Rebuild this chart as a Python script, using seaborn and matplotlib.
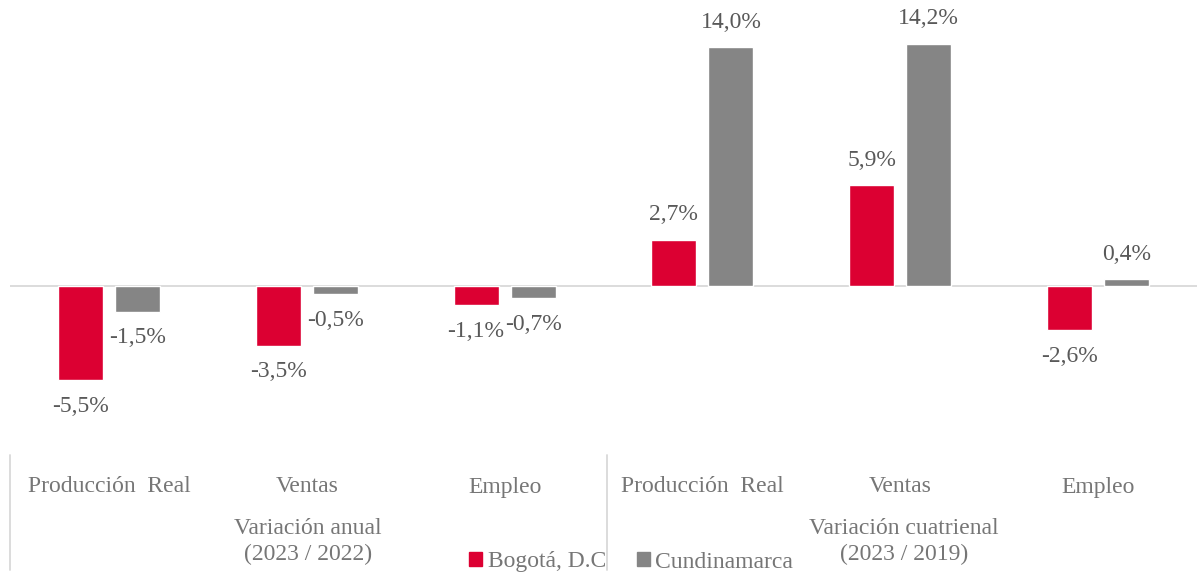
import pandas as pd
import numpy as np
import matplotlib.pyplot as plt
import seaborn as sns

# Data
categorias = ['Producción  Real', 'Ventas', 'Empleo', 'Producción  Real', 'Ventas', 'Empleo']
bogota = [-5.5, -3.5, -1.1, 2.7, 5.9, -2.6]
cundinamarca = [-1.5, -0.5, -0.7, 14.0, 14.2, 0.4]
grupos = ['Variación anual\n(2023 / 2022)', 'Variación cuatrienal\n(2023 / 2019)']
series = ['Bogotá, D.C', 'Cundinamarca']
colores = ['#DC0032', '#858585']

df = pd.DataFrame({
    'pos': list(range(6)) * 2,
    'valor': bogota + cundinamarca,
    'region': [series[0]] * 6 + [series[1]] * 6,
})

sns.set_style('white')
plt.rcParams['font.family'] = ['Liberation Serif', 'DejaVu Serif']

W, H = 1197, 576
fig = plt.figure(figsize=(W / 100, H / 100), dpi=100)
# axes from x=10px to right edge, y from top to 455px
ax = fig.add_axes([10 / W, (H - 455) / H, (W - 10) / W, 455 / H])

sns.barplot(data=df, x='pos', y='valor', hue='region', order=range(6),
            hue_order=series, palette=colores, width=0.576, gap=0.21,
            saturation=1, ax=ax, legend=False)

ax.set_xlim(-0.5, 5.5)
ax.set_ylim(-9.92, 16.78)
ax.axhline(0, color='#d9d9d9', lw=1.3, zorder=0)
for s in ax.spines.values():
    s.set_visible(False)
ax.set_xticks([])
ax.set_yticks([])
ax.set_xlabel('')
ax.set_ylabel('')

fs = 17
# value labels
for cont in ax.containers:
    for bar in cont:
        v = bar.get_height()
        xc = bar.get_x() + bar.get_width() / 2
        off = 18 if v >= 0 else -19
        ax.annotate(f'{v:.1f}%'.replace('.', ','), (xc, v), xytext=(0, off),
                    textcoords='offset points', ha='center', va='center',
                    fontsize=fs, color='#595959')

# category labels, separators and group labels below the plot
lab_color = '#767676'
for i, c in enumerate(categorias):
    xf = (10 + (i + 0.5) * (W - 10) / 6) / W
    fig.text(xf, 1 - 487 / H, c, ha='center', va='center', fontsize=fs, color=lab_color)

for xp in [10, 607]:
    fig.add_artist(plt.Line2D([xp / W, xp / W], [1 - 455 / H, 1 - 570 / H],
                              color='#d9d9d9', lw=1.3))

for g, xc in zip(grupos, [308, 904]):
    fig.text(xc / W, 1 - 542 / H, g, ha='center', va='center', fontsize=fs,
             color=lab_color, linespacing=1.3)

handles = [plt.Rectangle((0, 0), 1, 1, color=c) for c in colores]
fig.legend(handles, series, loc='center', bbox_to_anchor=(631 / W, 1 - 562 / H),
           ncol=2, frameon=False, fontsize=fs, labelcolor=lab_color,
           handlelength=0.55, handleheight=0.55, handletextpad=0.25,
           columnspacing=1.3, borderaxespad=0, borderpad=0)

fig.savefig('out.png', dpi=100)
